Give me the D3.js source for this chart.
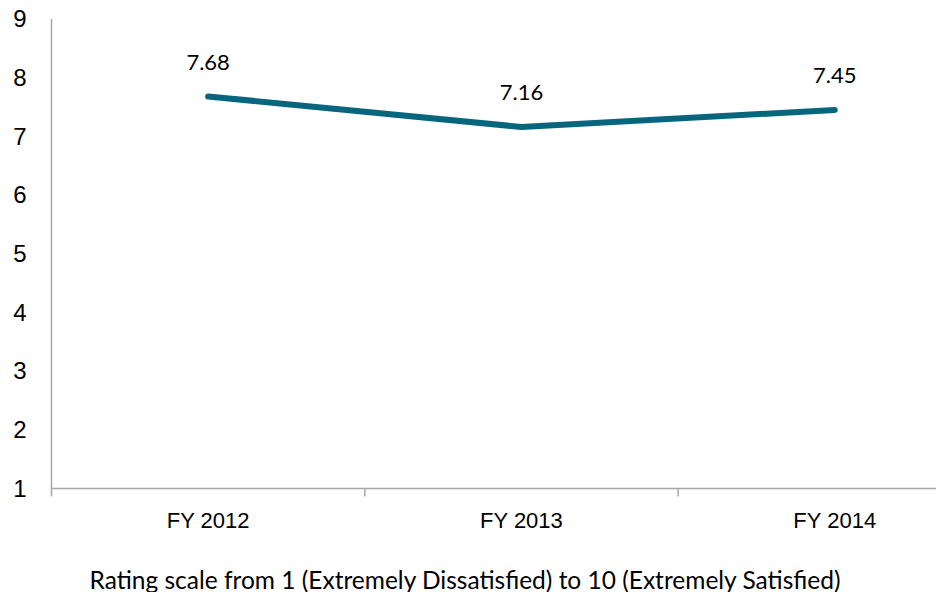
<!DOCTYPE html>
<html>
<head>
<meta charset="utf-8">
<script src="https://cdn.jsdelivr.net/npm/d3@7"></script>
<style>
  html, body { margin: 0; padding: 0; background: #fff; }
  svg { display: block; font-family: Lato, "Open Sans", sans-serif; }
</style>
</head>
<body>
<svg id="chart" width="936" height="592"></svg>
<script>
// Satisfaction rating by fiscal year
const years = ["FY 2012", "FY 2013", "FY 2014"];
const ratings = [7.68, 7.16, 7.45];
const yTicks = [1, 2, 3, 4, 5, 6, 7, 8, 9];
const note = "Rating scale from 1 (Extremely Dissatisfied) to 10 (Extremely Satisfied)";

const svg = d3.select("#chart");
const margin = { left: 51.5, top: 19, bottom: 488.5 };
const bandW = 313.3;

const x = d3.scaleBand()
  .domain(years)
  .range([margin.left, margin.left + bandW * years.length])
  .paddingInner(0).paddingOuter(0);

const y = d3.scaleLinear().domain([1, 9]).range([margin.bottom, margin.top]);

const axisColor = "#a6a6a6";

// y axis
const yAxis = svg.append("g")
  .attr("transform", `translate(${margin.left},0)`)
  .call(d3.axisLeft(y).tickValues(yTicks).tickSize(0).tickPadding(25).tickFormat(d3.format("d")));
yAxis.select(".domain").attr("stroke", axisColor).attr("stroke-width", 1.5)
  .attr("d", `M0,${margin.top}V${margin.bottom + 8}`);
yAxis.selectAll("text").attr("font-size", 24).attr("fill", "#000");

// x axis with tick marks on category boundaries
const xAxis = svg.append("g")
  .attr("transform", `translate(0,${margin.bottom})`)
  .call(d3.axisBottom(x).tickSize(0).tickPadding(24));
xAxis.select(".domain").attr("stroke", axisColor).attr("stroke-width", 1.5)
  .attr("d", `M${margin.left},0H${margin.left + bandW * years.length}`);
xAxis.selectAll("text").attr("font-size", 22).attr("fill", "#000");
xAxis.selectAll(".boundary")
  .data(years.slice(1))
  .enter().append("line")
  .attr("class", "boundary")
  .attr("x1", d => x(d)).attr("x2", d => x(d))
  .attr("y1", 0).attr("y2", 8)
  .attr("stroke", axisColor).attr("stroke-width", 1.5);

// rating line
const pts = years.map((yr, i) => ({ yr, v: ratings[i] }));
const line = d3.line()
  .x(d => x(d.yr) + x.bandwidth() / 2)
  .y(d => y(d.v));

svg.append("path")
  .datum(pts)
  .attr("d", line)
  .attr("fill", "none")
  .attr("stroke", "#07657d")
  .attr("stroke-width", 6)
  .attr("stroke-linecap", "round")
  .attr("stroke-linejoin", "round");

// value labels
svg.selectAll(".val")
  .data(pts)
  .enter().append("text")
  .attr("class", "val")
  .attr("x", d => x(d.yr) + x.bandwidth() / 2)
  .attr("y", d => y(d.v) - 35)
  .attr("text-anchor", "middle")
  .attr("dominant-baseline", "central")
  .attr("font-size", 22)
  .attr("fill", "#000")
  .text(d => d.v.toFixed(2));

// scale note
svg.append("text")
  .attr("x", 465)
  .attr("y", 579)
  .attr("text-anchor", "middle")
  .attr("dominant-baseline", "central")
  .attr("font-size", 24.5)
  .attr("fill", "#000")
  .text(note);
</script>
</body>
</html>
